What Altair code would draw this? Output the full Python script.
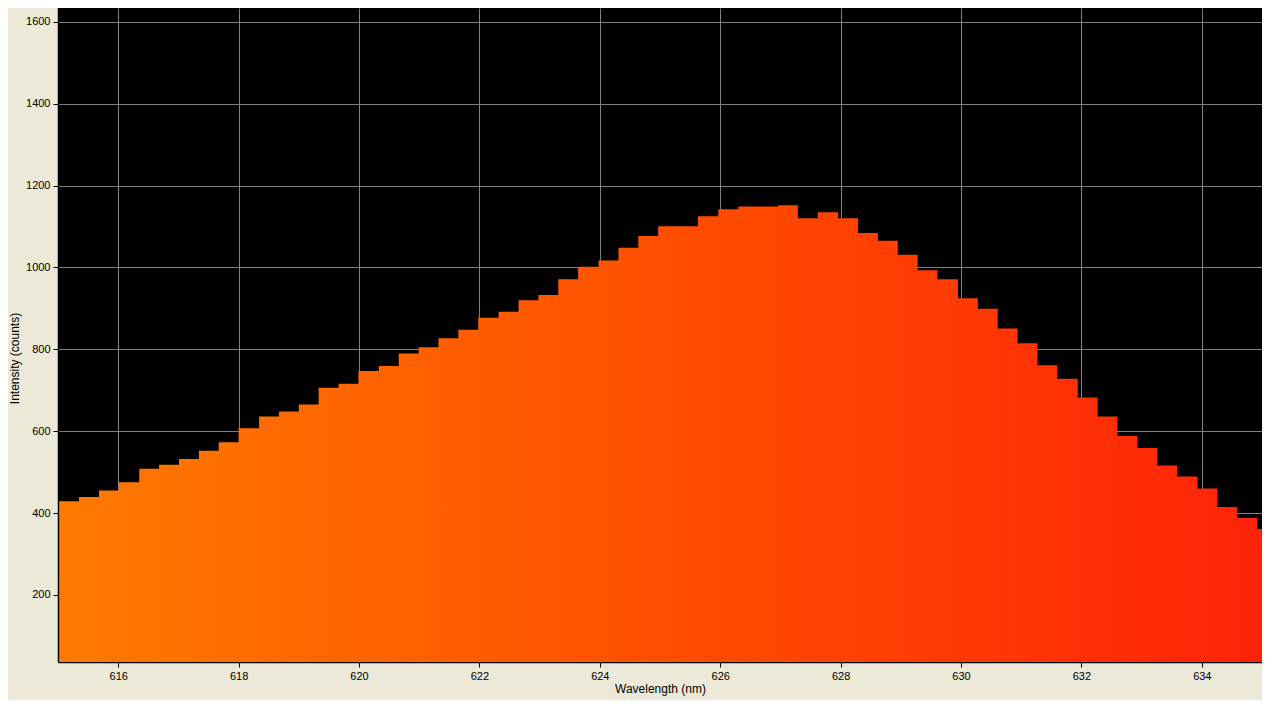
import altair as alt
import pandas as pd

wavelength = [615.02, 615.35, 615.68, 616.01, 616.35, 616.68, 617.01, 617.34, 617.67, 618.00,
              618.34, 618.67, 619.00, 619.33, 619.66, 619.99, 620.33, 620.66, 620.99, 621.32,
              621.65, 621.98, 622.32, 622.65, 622.98, 623.31, 623.64, 623.98, 624.31, 624.64,
              624.97, 625.30, 625.63, 625.97, 626.30, 626.63, 626.96, 627.29, 627.62, 627.96,
              628.29, 628.62, 628.95, 629.28, 629.61, 629.95, 630.28, 630.61, 630.94, 631.27,
              631.60, 631.94, 632.27, 632.60, 632.93, 633.26, 633.59, 633.93, 634.26, 634.59,
              634.92, 635.25]
intensity = [429, 439, 455, 475, 508, 518, 532, 552, 573, 607,
             636, 648, 665, 706, 716, 747, 759, 790, 805, 827,
             848, 877, 892, 920, 933, 971, 1002, 1017, 1048, 1077,
             1101, 1101, 1125, 1142, 1149, 1149, 1152, 1120, 1135, 1120,
             1084, 1065, 1031, 993, 971, 925, 899, 851, 815, 761,
             728, 682, 636, 588, 559, 516, 489, 460, 415, 388,
             361, 361]

x_ticks = [616, 618, 620, 622, 624, 626, 628, 630, 632, 634]
y_ticks = [200, 400, 600, 800, 1000, 1200, 1400, 1600]

df = pd.DataFrame({"wavelength": wavelength, "intensity": intensity})

gradient = alt.LinearGradient(
    gradient="linear",
    x1=0, x2=1, y1=0, y2=0,
    stops=[
        alt.GradientStop(color="#ff7a00", offset=0),
        alt.GradientStop(color="#ff4a00", offset=0.55),
        alt.GradientStop(color="#ff2208", offset=1),
    ],
)

FONT = "Liberation Sans"

chart = (
    alt.Chart(df)
    .mark_area(interpolate="step-after", color=gradient, clip=True)
    .encode(
        x=alt.X(
            "wavelength:Q",
            scale=alt.Scale(domain=[615, 635], nice=False, zero=False),
            axis=alt.Axis(
                values=x_ticks,
                title="Wavelength (nm)",
                format="d",
                titlePadding=2,
            ),
        ),
        y=alt.Y(
            "intensity:Q",
            scale=alt.Scale(domain=[36, 1634], nice=False, zero=False),
            axis=alt.Axis(
                values=y_ticks,
                title="Intensity (counts)",
                format="d",
                titleX=-37,
                titleY=350,
            ),
        ),
    )
    .properties(
        width=1204,
        height=654,
        autosize=alt.AutoSizeParams(type="none"),
        padding={"left": 50, "top": 0, "right": 0, "bottom": 38},
    )
    .configure(background="#ECE9D8")
    .configure_view(fill="#000000", stroke=None)
    .configure_axis(
        grid=True,
        gridColor="#808080",
        gridWidth=1,
        gridOpacity=1,
        domainColor="#000000",
        domainWidth=1.5,
        tickColor="#000000",
        tickSize=5,
        labelFont=FONT,
        labelFontSize=11,
        labelColor="#000000",
        labelPadding=3,
        titleFont=FONT,
        titleFontSize=12,
        titleFontWeight="normal",
        titleColor="#000000",
    )
)

chart.save("out.html", embed_options={"renderer": "svg", "actions": False})
